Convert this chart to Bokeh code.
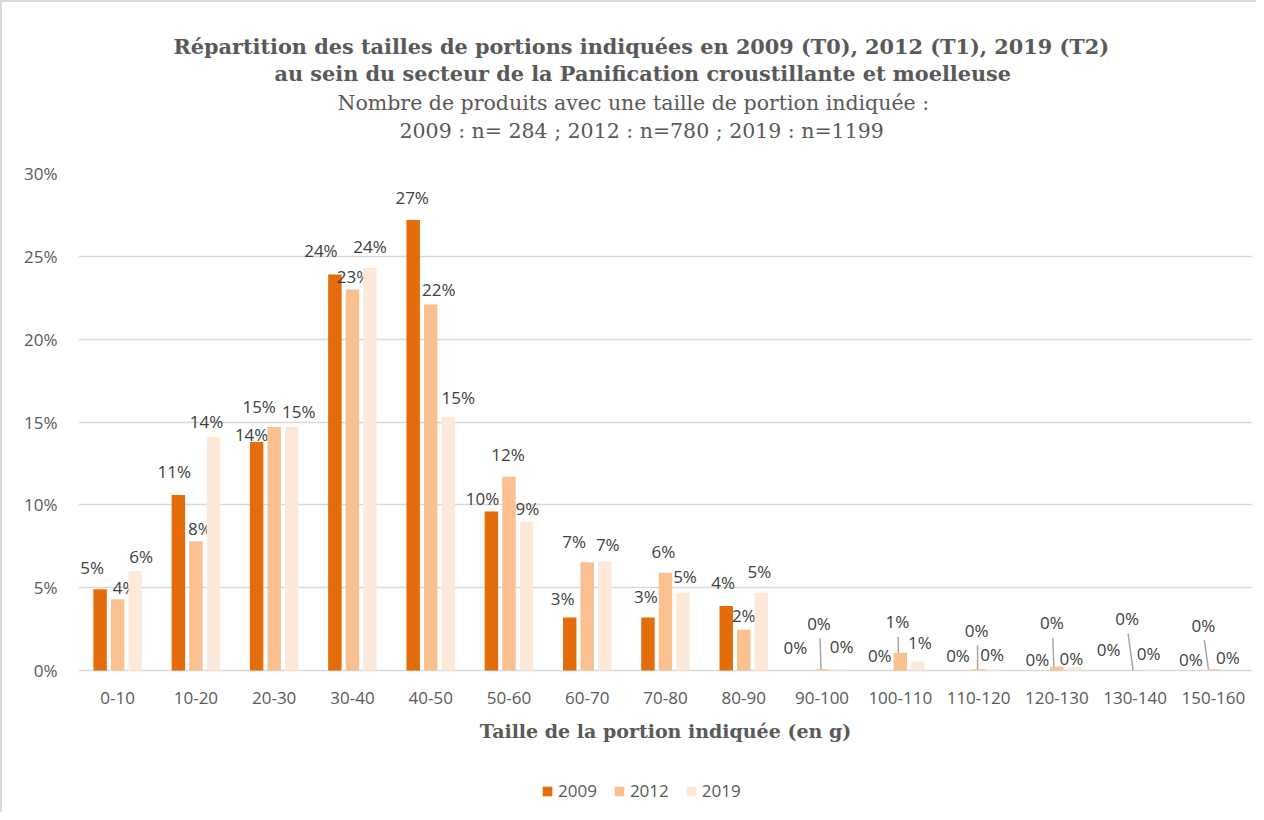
from bokeh.plotting import figure
from bokeh.models import (FactorRange, Range1d, FixedTicker, PrintfTickFormatter,
                          Title, Label, Legend, LegendItem, ColumnDataSource)
from bokeh.transform import dodge
from bokeh.core.properties import value
from bokeh.embed import file_html
from bokeh.resources import INLINE

# ---------------- data ----------------
categories = ["0-10", "10-20", "20-30", "30-40", "40-50", "50-60", "60-70", "70-80",
              "80-90", "90-100", "100-110", "110-120", "120-130", "130-140", "150-160"]
years = ["2009", "2012", "2019"]
v2009 = [4.9, 10.6, 13.8, 23.9, 27.2, 9.6, 3.2, 3.2, 3.9, 0.0, 0.0, 0.0, 0.0, 0.0, 0.0]
v2012 = [4.3, 7.8, 14.7, 23.0, 22.1, 11.7, 6.53, 5.9, 2.46, 0.08, 1.07, 0.08, 0.22, 0.0, 0.08]
v2019 = [6.0, 14.1, 14.7, 24.3, 15.3, 9.0, 6.6, 4.7, 4.7, 0.08, 0.54, 0.06, 0.2, 0.06, 0.0]
y_ticks = [0, 5, 10, 15, 20, 25, 30]

title_lines = ["Répartition des tailles de portions indiquées en 2009 (T0), 2012 (T1), 2019 (T2)",
               "au sein du secteur de la Panification croustillante et moelleuse"]
subtitle_lines = ["Nombre de produits avec une taille de portion indiquée :",
                  "2009 : n= 284 ; 2012 : n=780 ; 2019 : n=1199"]
x_title = "Taille de la portion indiquée (en g)"

# ---------------- style ----------------
colors = ["#E46C0A", "#FAC090", "#FDE9D9"]
bar_offsets = [-0.224, 0.0, 0.224]
bar_width = 0.172
TXT = "#595959"
LBL = "#404040"
GRID = "#D9D9D9"
SANS = "Open Sans"
SERIF = "DejaVu Serif"

# data-label placement (screen px, relative to the bar top centre)
lab_dx = [[-8, -4, -5, -14, -1, -9, -7, -2, -3, -9, -3, -3, -2, -9, -5],
          [7, 4, -15, 1, 8, -1, -13, -2, 0, -3, -3, -2, -5, -8, -10],
          [6, -7, 7, 0, 10, 1, 3, 2, -2, 2, 2, -4, -3, -4, -3]]
lab_up = [[22, 23, 7, 24, 22, 13, 19, 21, 23, 23, 15, 15, 11, 21, 11],
          [12, 13, 20, 13, 15, 22, 21, 21, 14, 46, 31, 39, 44, 52, 44],
          [15, 15, 15, 21, 20, 13, 17, 16, 21, 23, 19, 15, 9, 16, 13]]
# leader lines (series 2012, these category indices, end x shift in px)
leader_idx = [9, 10, 11, 12, 13, 14]
leader_end_dx = [-1, -2, -1, -3, -2, -5]

FRAME_W = 1174
PLOT_H = 497          # height of the 0..30 % band
BOTTOM_H = 140        # room under the 0 line for tick labels, axis title, legend
cat_px = FRAME_W / len(categories)
y_px = PLOT_H / (y_ticks[-1] - y_ticks[0])
y_min = y_ticks[0] - BOTTOM_H / y_px

p = figure(x_range=FactorRange(*categories, range_padding=0),
           y_range=Range1d(y_min, y_ticks[-1]),
           frame_width=FRAME_W, frame_height=PLOT_H + BOTTOM_H, output_backend="svg",
           toolbar_location=None,
           min_border_left=76, min_border_right=4, min_border_top=171, min_border_bottom=2)
p.styles = {"border-top": "2px solid #D9D9D9", "border-left": "2px solid #D9D9D9"}
p.outline_line_color = None
p.background_fill_color = "white"
p.border_fill_color = "white"

# titles, stacked upwards from the frame (first added = closest to the frame)
p.add_layout(Title(text=" ", text_font_size="1px", standoff=28), "above")
for txt, style, size, so, off in [(subtitle_lines[1], "normal", "20.5px", 0, 321),
                                  (subtitle_lines[0], "normal", "20.5px", 4, 259),
                                  (title_lines[1], "bold", "20.8px", 1, 196),
                                  (title_lines[0], "bold", "20.8px", 0, 95)]:
    p.add_layout(Title(text=txt, align="left", offset=off, text_font=SERIF, text_font_size=size,
                       text_font_style=style, text_color=TXT, standoff=so), "above")

series = [v2009, v2012, v2019]
renderers = []
for s, vals in enumerate(series):
    src = ColumnDataSource(dict(cat=categories, val=vals,
                                lbl=[f"{int(v + 0.5)}%" for v in vals],
                                dx=lab_dx[s], dy=[-u for u in lab_up[s]]))
    r = p.vbar(x=dodge("cat", bar_offsets[s], range=p.x_range), top="val", width=bar_width,
               source=src, fill_color=colors[s], line_color=None)
    renderers.append(r)
    p.text(x=dodge("cat", bar_offsets[s], range=p.x_range), y="val", text="lbl",
           x_offset="dx", y_offset="dy", source=src, text_font=value(SANS), text_font_size="17px",
           text_color=LBL, text_align="center", text_baseline="middle")

# leader lines for the tiny 2012 values
x0, y0, x1, y1 = [], [], [], []
for i, edx in zip(leader_idx, leader_end_dx):
    base = i + 0.5 + bar_offsets[1]
    x0.append(base + (lab_dx[1][i] + 1) / cat_px)
    y0.append(v2012[i] + (lab_up[1][i] - 15) / y_px)
    x1.append(base + edx / cat_px)
    y1.append(v2012[i])
p.segment(x0=x0, y0=y0, x1=x1, y1=y1, line_color="#A6A6A6", line_width=1.5)

# category tick labels under the 0 line
tick_src = ColumnDataSource(dict(cat=categories, y=[y_ticks[0]] * len(categories)))
p.text(x="cat", y="y", text="cat", source=tick_src, y_offset=27, text_font=value(SANS),
       text_font_size="17px", text_color=TXT, text_align="center", text_baseline="middle")

# x axis title
p.add_layout(Label(x=FRAME_W / 2, y=80, x_units="screen", y_units="screen", text=x_title,
                   text_font=SERIF, text_font_size="19px", text_font_style="bold",
                   text_color=TXT, text_align="center", text_baseline="middle"))

# axes
p.xaxis.visible = False
p.yaxis.ticker = FixedTicker(ticks=y_ticks)
p.yaxis.formatter = PrintfTickFormatter(format="%d%%")
p.yaxis.axis_line_color = None
p.yaxis.major_tick_line_color = None
p.yaxis.minor_tick_line_color = None
p.yaxis.major_label_text_font = SANS
p.yaxis.major_label_text_font_size = "17px"
p.yaxis.major_label_text_color = TXT
p.yaxis.major_label_standoff = 15

p.xgrid.grid_line_color = None
p.ygrid.ticker = FixedTicker(ticks=y_ticks)
p.ygrid.grid_line_color = GRID
p.ygrid.grid_line_width = 1.5

legend = Legend(items=[LegendItem(label=y, renderers=[r]) for y, r in zip(years, renderers)],
                orientation="horizontal", location=(463, 8), border_line_color=None,
                background_fill_alpha=0, glyph_width=12, glyph_height=12, label_standoff=5,
                spacing=16, label_text_font=SANS, label_text_font_size="17px",
                label_text_color=TXT, margin=0, padding=0)
p.add_layout(legend, "center")

open("out.html", "w").write(file_html(p, INLINE))
